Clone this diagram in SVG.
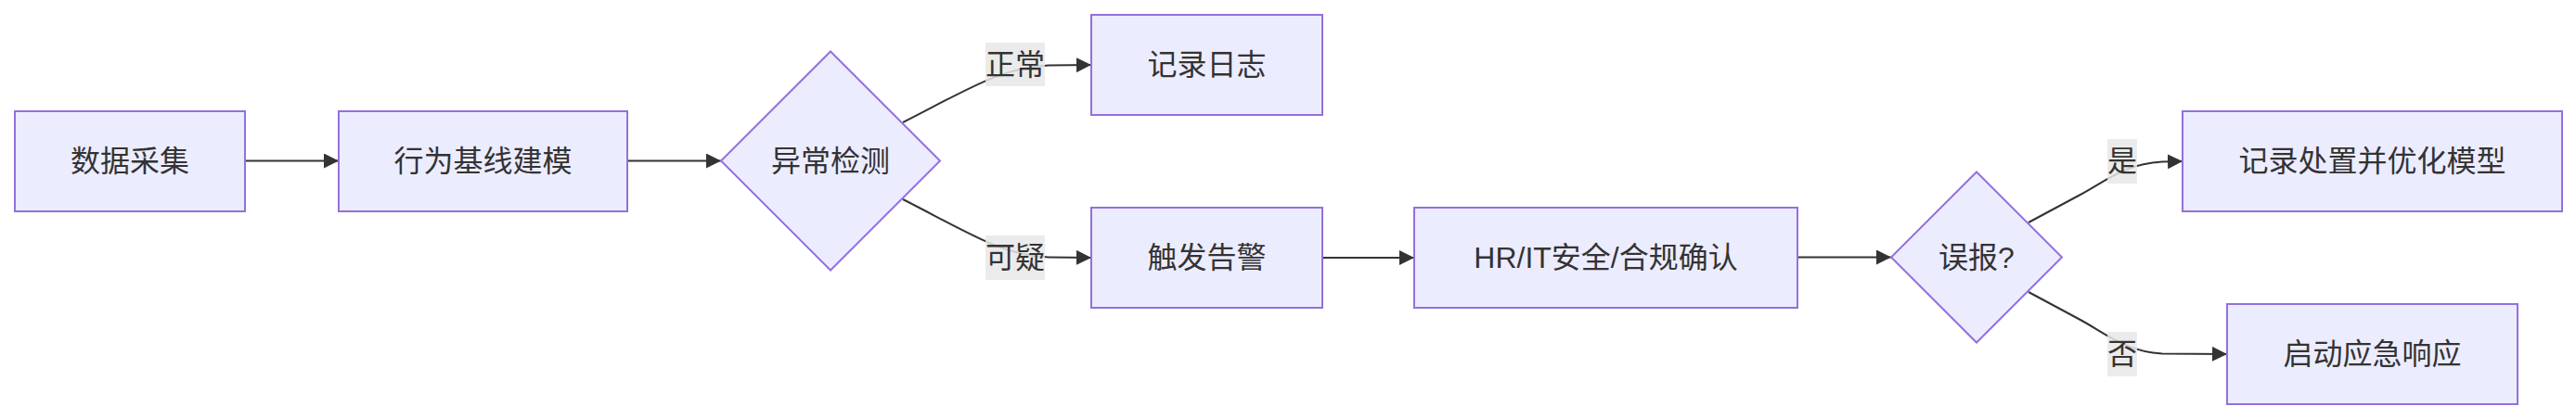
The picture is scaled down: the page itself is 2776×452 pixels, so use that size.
<svg xmlns="http://www.w3.org/2000/svg" width="2776" height="452" viewBox="0 0 2776 452">
<style>
.node rect,.node polygon{fill:#ECECFF;stroke:#9370DB;stroke-width:2}
text{font-family:"Liberation Sans","Noto Sans CJK SC",sans-serif;font-size:32px;fill:#333;text-anchor:middle}
.edge{fill:none;stroke:#333;stroke-width:2}
.lbl rect{fill:#e8e8e8;opacity:0.85}
</style>
<defs>
<marker id="arr" viewBox="0 0 10 10" refX="10" refY="5" markerUnits="userSpaceOnUse" markerWidth="16" markerHeight="16" orient="auto">
<path d="M0,0 L10,5 L0,10 z" fill="#333"/>
</marker>
</defs>
<rect width="2776" height="452" fill="#fff"/>
<g id="connectors">
<path class="edge" d="M264,173.5 L365,173.5" marker-end="url(#arr)"/>
<path class="edge" d="M676,173.5 L777,173.5" marker-end="url(#arr)"/>
<path class="edge" d="M973,132 C1040,98 1080,72 1130,70.5 L1176,70" marker-end="url(#arr)"/>
<path class="edge" d="M973,215 C1040,249 1080,276 1130,277.5 L1176,278" marker-end="url(#arr)"/>
<path class="edge" d="M1424,278 L1524,278" marker-end="url(#arr)"/>
<path class="edge" d="M1937,277.5 L2038,277.5" marker-end="url(#arr)"/>
<path class="edge" d="M2186,240 L2240,211 C2270,195 2290,176.5 2330,174.5 L2352,174" marker-end="url(#arr)"/>
<path class="edge" d="M2186,315 L2240,344 C2270,360 2290,379 2330,381.5 L2400,382" marker-end="url(#arr)"/>
<g class="lbl"><rect x="1062" y="46" width="64" height="47"/><text x="1094" y="81">正常</text></g>
<g class="lbl"><rect x="1062" y="254" width="64" height="48"/><text x="1094" y="289">可疑</text></g>
<g class="lbl"><rect x="2271" y="150" width="32" height="48"/><text x="2287" y="185">是</text></g>
<g class="lbl"><rect x="2271" y="358" width="32" height="48"/><text x="2287" y="393">否</text></g>
</g>
<g id="n1" class="node"><rect x="16" y="120" width="248" height="108"/><text x="140" y="185">数据采集</text></g>
<g id="n2" class="node"><rect x="365" y="120" width="311" height="108"/><text x="520.5" y="185">行为基线建模</text></g>
<g id="n3" class="node"><polygon points="895,55.5 1013,173.5 895,291.5 777,173.5"/><text x="895" y="185">异常检测</text></g>
<g id="n4" class="node"><rect x="1176" y="16" width="249" height="108"/><text x="1300.5" y="81">记录日志</text></g>
<g id="n5" class="node"><rect x="1176" y="224" width="249" height="108"/><text x="1300.5" y="289">触发告警</text></g>
<g id="n6" class="node"><rect x="1524" y="224" width="413" height="108"/><text x="1730.5" y="289">HR/IT安全/合规确认</text></g>
<g id="n7" class="node"><polygon points="2130,185.5 2222,277.5 2130,369.5 2038,277.5"/><text x="2130" y="289">误报?</text></g>
<g id="n8" class="node"><rect x="2352" y="120" width="409" height="108"/><text x="2556.5" y="185">记录处置并优化模型</text></g>
<g id="n9" class="node"><rect x="2400" y="328" width="313" height="108"/><text x="2556.5" y="393">启动应急响应</text></g>
</svg>
